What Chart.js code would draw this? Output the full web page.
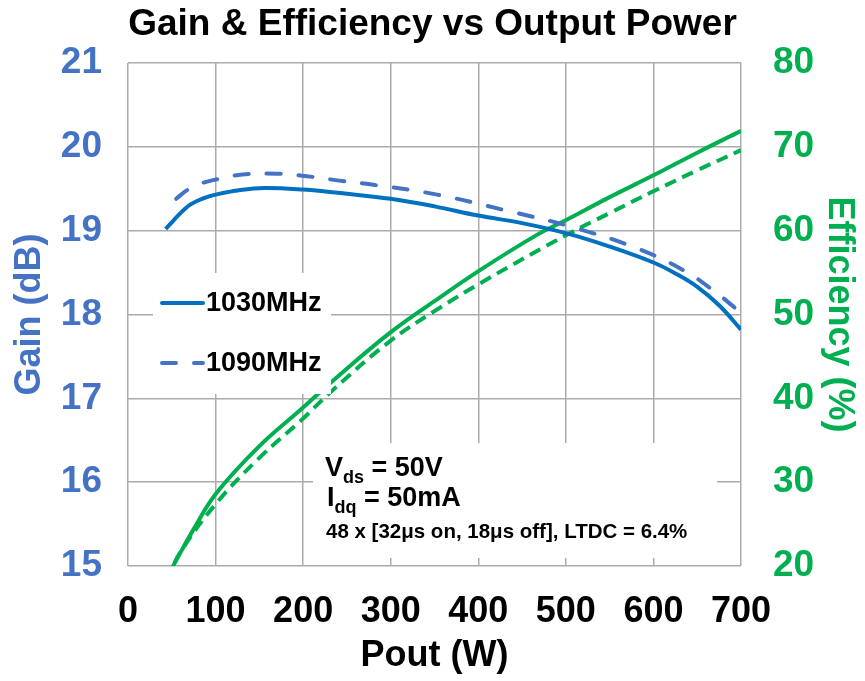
<!DOCTYPE html>
<html>
<head>
<meta charset="utf-8">
<script src="https://cdn.jsdelivr.net/npm/chart.js@4/dist/chart.umd.min.js"></script>
<style>
html,body{margin:0;padding:0;background:#fff;}
#wrap{width:865px;height:681px;}
</style>
</head>
<body>
<div id="wrap"><canvas id="c" width="865" height="681"></canvas></div>
<script>
// ---- data ----
const xTicks = [0, 100, 200, 300, 400, 500, 600, 700];
const gainTicks = [15, 16, 17, 18, 19, 20, 21];
const effTicks = [20, 30, 40, 50, 60, 70, 80];

const poutGain1030 = [43, 50, 57, 64, 71, 80, 90, 100, 125, 156, 200, 250, 300, 350, 400, 450, 500, 550, 600, 625, 650, 675, 700];
const gain1030     = [19.02, 19.10, 19.18, 19.25, 19.31, 19.36, 19.40, 19.43, 19.48, 19.51, 19.49, 19.44, 19.38, 19.29, 19.18, 19.09, 18.97, 18.81, 18.62, 18.49, 18.33, 18.11, 17.82];

const poutGain1090 = [55, 67, 80, 96, 131, 170, 204, 239, 282, 353, 428, 505, 581, 634, 668, 700];
const gain1090     = [19.38, 19.48, 19.55, 19.60, 19.67, 19.68, 19.65, 19.60, 19.545, 19.43, 19.25, 19.05, 18.79, 18.53, 18.29, 18.02];

const poutEff1030 = [43, 51, 75, 101, 150, 200, 234, 299, 350, 402, 467, 501, 550, 600, 650, 700];
const eff1030     = [18.4, 19.9, 24.4, 28.7, 34.3, 38.9, 42.1, 47.8, 51.6, 55.3, 59.5, 61.3, 64.0, 66.6, 69.3, 71.9];

const poutEff1090 = [45, 59, 101, 150, 200, 234, 299, 350, 410, 501, 550, 600, 650, 700];
const eff1090     = [18.3, 21.5, 27.5, 32.9, 37.6, 41.0, 46.8, 50.4, 54.2, 59.5, 62.1, 64.7, 67.2, 69.6];

const legendLabels = ['1030MHz', '1090MHz'];
const noteLines = [
  ['V', 'ds', ' = 50V'],
  ['I', 'dq', ' = 50mA'],
  ['48 x [32\u03bcs on, 18\u03bcs off], LTDC = 6.4%']
];

// ---- styles ----
const FONT = '"Liberation Sans", Arial, Helvetica, sans-serif';
const BLUE = '#0070C0', BLUE2 = '#4472C4', GREEN = '#00B050';
const GRID = '#ABABAB';

const toXY = (xs, ys) => xs.map((x, i) => ({x: x, y: ys[i]}));

const overlay = {
  id: 'overlay',
  afterDatasetsDraw(chart) {
    const ctx = chart.ctx;
    ctx.save();
    // legend box (white, covers grid & lines)
    ctx.fillStyle = '#fff';
    ctx.fillRect(153, 273, 178, 121);
    // note box
    ctx.fillRect(313, 443, 404, 115);

    // legend entries
    const ds = chart.data.datasets;
    const rows = [{y: 303, d: ds[0]}, {y: 363, d: ds[1]}];
    rows.forEach((r, i) => {
      ctx.strokeStyle = r.d.borderColor;
      ctx.lineWidth = r.d.borderWidth;
      ctx.lineCap = 'round';
      ctx.setLineDash(i === 0 ? [] : [14, 18]);
      ctx.beginPath();
      ctx.moveTo(162, r.y);
      ctx.lineTo(203, r.y);
      ctx.stroke();
      ctx.setLineDash([]);
      ctx.fillStyle = '#000';
      ctx.font = 'bold 27px ' + FONT;
      ctx.textBaseline = 'middle';
      ctx.textAlign = 'left';
      ctx.fillText(legendLabels[i], 206, r.y + 1);
    });

    // note text
    ctx.fillStyle = '#000';
    ctx.textBaseline = 'alphabetic';
    const drawSub = (parts, x, y) => {
      ctx.font = 'bold 27px ' + FONT;
      ctx.fillText(parts[0], x, y);
      x += ctx.measureText(parts[0]).width;
      ctx.font = 'bold 18px ' + FONT;
      ctx.fillText(parts[1], x, y + 7);
      x += ctx.measureText(parts[1]).width;
      ctx.font = 'bold 27px ' + FONT;
      ctx.fillText(parts[2], x, y);
    };
    drawSub(noteLines[0], 325, 476);
    drawSub(noteLines[1], 327, 506);
    ctx.font = 'bold 20.5px ' + FONT;
    ctx.fillText(noteLines[2][0], 326, 538);
    ctx.restore();
  }
};

new Chart(document.getElementById('c'), {
  type: 'line',
  data: {
    datasets: [
      {label: 'Gain 1030MHz', data: toXY(poutGain1030, gain1030), yAxisID: 'y',
       borderColor: BLUE, borderWidth: 4, pointRadius: 0, tension: 0.4, fill: false},
      {label: 'Gain 1090MHz', data: toXY(poutGain1090, gain1090), yAxisID: 'y',
       borderColor: BLUE2, borderWidth: 4, borderDash: [14, 18], borderCapStyle: 'round', pointRadius: 0, tension: 0.4, fill: false},
      {label: 'Eff 1030MHz', data: toXY(poutEff1030, eff1030), yAxisID: 'y1',
       borderColor: GREEN, borderWidth: 4, pointRadius: 0, tension: 0.4, fill: false},
      {label: 'Eff 1090MHz', data: toXY(poutEff1090, eff1090), yAxisID: 'y1',
       borderColor: GREEN, borderWidth: 4, borderDash: [12, 7], pointRadius: 0, tension: 0.4, fill: false}
    ]
  },
  options: {
    responsive: false,
    animation: false,
    devicePixelRatio: 1,
    layout: {padding: 0},
    plugins: {
      legend: {display: false},
      tooltip: {enabled: false},
      title: {display: true, text: 'Gain & Efficiency vs Output Power', color: '#000',
              font: {family: FONT, size: 37, weight: 'bold', lineHeight: 1.2},
              padding: {top: 3, bottom: 15.6}}
    },
    scales: {
      x: {
        type: 'linear', min: xTicks[0], max: xTicks[xTicks.length - 1],
        afterBuildTicks: s => { s.ticks = xTicks.map(v => ({value: v})); },
        ticks: {color: '#000', font: {family: FONT, size: 36, weight: 'bold', lineHeight: 1.2}, padding: 24, maxRotation: 0, autoSkip: false},
        grid: {color: GRID, lineWidth: 1.5, drawTicks: false},
        border: {display: false},
        title: {display: true, text: 'Pout (W)', color: '#000', font: {family: FONT, size: 36, weight: 'bold', lineHeight: 1.2}, padding: {top: 0, bottom: 3}},
        afterFit: s => { s.height = 115; }
      },
      y: {
        position: 'left', min: gainTicks[0], max: gainTicks[gainTicks.length - 1],
        afterBuildTicks: s => { s.ticks = gainTicks.map(v => ({value: v})); },
        ticks: {color: BLUE2, font: {family: FONT, size: 37, weight: 'bold', lineHeight: 1.2}, padding: 26, autoSkip: false},
        grid: {color: GRID, lineWidth: 1.5, drawTicks: false},
        border: {display: false},
        title: {display: true, text: 'Gain (dB)', color: BLUE2, font: {family: FONT, size: 36, weight: 'bold', lineHeight: 1.2}, padding: {top: 8, bottom: 0}},
        afterFit: s => { s.width = 128; }
      },
      y1: {
        position: 'right', min: effTicks[0], max: effTicks[effTicks.length - 1],
        afterBuildTicks: s => { s.ticks = effTicks.map(v => ({value: v})); },
        ticks: {color: GREEN, font: {family: FONT, size: 37, weight: 'bold', lineHeight: 1.2}, padding: 32, autoSkip: false},
        grid: {display: false, drawTicks: false},
        border: {display: false},
        title: {display: true, text: 'Efficiency (%)', color: GREEN, font: {family: FONT, size: 36, weight: 'bold', lineHeight: 1.2}, padding: {top: 4, bottom: 0}},
        afterFit: s => { s.width = 124; }
      }
    }
  },
  plugins: [overlay]
});
</script>
</body>
</html>
